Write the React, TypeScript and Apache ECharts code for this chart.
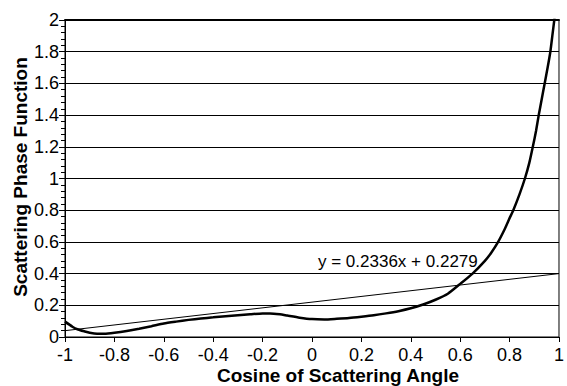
import React, { useEffect, useRef } from "react";
import * as echarts from "echarts";

const curveX = [
  -1, -0.97, -0.95, -0.92, -0.9, -0.87, -0.84, -0.8, -0.75, -0.7, -0.65, -0.6, -0.55, -0.5,
  -0.45, -0.4, -0.35, -0.3, -0.25, -0.2, -0.17, -0.13, -0.1, -0.05, 0, 0.05, 0.1, 0.15, 0.2,
  0.25, 0.3, 0.35, 0.4, 0.45, 0.5, 0.55, 0.6, 0.65, 0.7, 0.725, 0.75, 0.78, 0.8, 0.815, 0.84,
  0.862, 0.88, 0.894, 0.907, 0.918, 0.93, 0.942, 0.954, 0.965, 0.973, 0.981, 1.0,
];
const curveY = [
  0.097, 0.065, 0.049, 0.035, 0.027, 0.021, 0.021, 0.027, 0.038, 0.052, 0.068, 0.085, 0.097,
  0.108, 0.117, 0.124, 0.131, 0.137, 0.143, 0.149, 0.149, 0.143, 0.135, 0.122, 0.113, 0.111,
  0.115, 0.12, 0.128, 0.137, 0.149, 0.163, 0.181, 0.205, 0.235, 0.273, 0.335, 0.4, 0.48, 0.53,
  0.59, 0.68, 0.75, 0.8, 0.9, 1.0, 1.1, 1.2, 1.3, 1.4, 1.5, 1.6, 1.7, 1.8, 1.9, 2.0, 2.25,
];
const trendX = [-1, 1];
const trendY = [0.04, 0.4];
const trendLabel = "y = 0.2336x + 0.2279";
const xTitle = "Cosine of Scattering Angle";
const yTitle = "Scattering Phase Function";

const FONT = "Liberation Sans";

export default function App() {
  const ref = useRef<HTMLDivElement>(null);
  useEffect(() => {
    if (!ref.current) return;
    const chart = echarts.init(ref.current, undefined, { renderer: "svg" });
    const fmt = (v: number) => String(+v.toFixed(1));
    chart.setOption({
      animation: false,
      backgroundColor: "#fff",
      textStyle: { fontFamily: FONT, color: "#000" },
      grid: {
        left: 65,
        right: 5,
        top: 20,
        bottom: 49,
        show: true,
        borderColor: "#000",
        borderWidth: 1,
        backgroundColor: "transparent",
      },
      xAxis: [
        {
          type: "value",
          min: -1,
          max: 1,
          interval: 0.2,
          axisLine: { show: true, onZero: false, lineStyle: { color: "#000", width: 1 } },
          axisTick: { show: true, inside: false, length: 5, lineStyle: { color: "#000" } },
          axisLabel: {
            fontSize: 18,
            color: "#000",
            fontFamily: FONT,
            margin: 9,
            formatter: fmt,
          },
          splitLine: { show: false },
        },
        {
          type: "value",
          position: "top",
          min: -1,
          max: 1,
          interval: 0.2,
          axisLine: { show: true, onZero: false, lineStyle: { color: "#000", width: 2 } },
          axisTick: { show: false },
          axisLabel: { show: false },
          splitLine: { show: false },
        },
      ],
      yAxis: {
        type: "value",
        min: 0,
        max: 2,
        interval: 0.2,
        axisLine: { show: true, onZero: false, lineStyle: { color: "#000", width: 1 } },
        axisTick: { show: true, inside: false, length: 6, lineStyle: { color: "#000" } },
        minorTick: { show: true, splitNumber: 5, length: 4, lineStyle: { color: "#000" } },
        axisLabel: {
          fontSize: 18,
          color: "#000",
          fontFamily: FONT,
          margin: 6,
          formatter: fmt,
        },
        splitLine: { show: true, lineStyle: { color: "#000", width: 1 } },
      },
      series: [
        {
          type: "line",
          data: trendX.map((x, i) => [x, trendY[i]]),
          showSymbol: false,
          symbol: "none",
          lineStyle: { color: "#000", width: 1 },
          silent: true,
          z: 3,
        },
        {
          type: "line",
          data: curveX.map((x, i) => [x, curveY[i]]),
          showSymbol: false,
          symbol: "none",
          smooth: 0.2,
          clip: true,
          lineStyle: { color: "#000", width: 2.5 },
          silent: true,
          z: 4,
        },
      ],
      graphic: [
        {
          type: "text",
          x: 318,
          y: 261,
          style: {
            text: trendLabel,
            fontSize: 17,
            fontFamily: FONT,
            fill: "#000",
            align: "left",
            verticalAlign: "middle",
          },
          z: 10,
        },
        {
          type: "text",
          x: 338,
          y: 375,
          style: {
            text: xTitle,
            fontSize: 19,
            fontWeight: "bold",
            fontFamily: FONT,
            fill: "#000",
            align: "center",
            verticalAlign: "middle",
          },
        },
        {
          type: "text",
          x: 20,
          y: 177,
          rotation: Math.PI / 2,
          style: {
            text: yTitle,
            fontSize: 19,
            fontWeight: "bold",
            fontFamily: FONT,
            fill: "#000",
            align: "center",
            verticalAlign: "middle",
          },
        },
      ],
    });
    return () => chart.dispose();
  }, []);
  return (
    <div
      ref={ref}
      style={{ position: "fixed", left: 0, top: 0, width: 567, height: 386 }}
    />
  );
}
